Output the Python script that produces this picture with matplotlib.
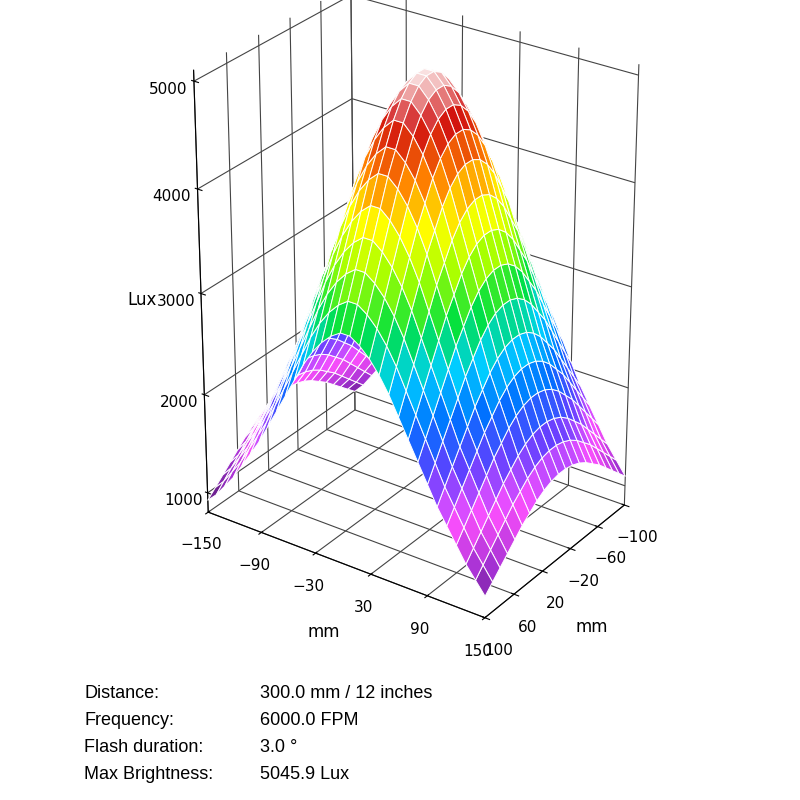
import numpy as np
import matplotlib
matplotlib.use("Agg")
import matplotlib.pyplot as plt
from matplotlib.colors import LinearSegmentedColormap

# ---- data ----
x_ticks = [-150, -90, -30, 30, 90, 150]
y_ticks = [-100, -60, -20, 20, 60, 100]
z_ticks = [1000, 2000, 3000, 4000, 5000]

# sampled profiles (relative), along x and along y through the peak
x_pos = [-150, -140, -130, -120, -110, -100, -90, -80, -70, -60, -50, -40, -30, -20, -10, 0,
         10, 20, 30, 40, 50, 60, 70, 80, 90, 100, 110, 120, 130, 140, 150]
x_rel = [0.30, 0.33, 0.37, 0.41, 0.46, 0.51, 0.56, 0.62, 0.68, 0.74, 0.80, 0.86, 0.91, 0.95, 0.98, 1.00,
         1.00, 0.98, 0.95, 0.91, 0.86, 0.80, 0.74, 0.68, 0.62, 0.56, 0.51, 0.46, 0.41, 0.37, 0.33]
y_pos = [-100, -90, -80, -70, -60, -50, -40, -30, -20, -10, 0,
         10, 20, 30, 40, 50, 60, 70, 80, 90, 100]
y_rel = [0.66, 0.71, 0.76, 0.81, 0.86, 0.90, 0.94, 0.97, 0.99, 1.00, 1.00,
         0.99, 0.97, 0.94, 0.90, 0.86, 0.81, 0.76, 0.71, 0.66, 0.61]
peak_lux = 5045.9

info_labels = ["Distance:", "Frequency:", "Flash duration:", "Max Brightness:"]
info_values = ["300.0 mm / 12 inches", "6000.0 FPM", "3.0 \u00b0", "5045.9 Lux"]

X, Y = np.meshgrid(x_pos, y_pos)
Z = peak_lux * np.outer(y_rel, x_rel)

cmap = LinearSegmentedColormap.from_list(
    "lux", ["#3a1050", "#a030d0", "#ff50ff", "#6040ff", "#0070ff", "#00d0ff",
            "#00e040", "#a0ff00", "#ffff00", "#ff8000", "#d01010", "#ffffff"])

fig = plt.figure(figsize=(8, 8), dpi=100)
ax = fig.add_axes([0.09, 0.22, 0.84, 0.80], projection="3d")
ax.plot_surface(X, Y, Z, cmap=cmap, vmin=800, vmax=5100,
                edgecolor="white", linewidth=0.7, rstride=1, cstride=1,
                antialiased=True, shade=False)
ax.view_init(elev=28, azim=-55)
ax.set_xlim(-150, 150)
ax.set_ylim(100, -100)
ax.set_zlim(800, 5100)
ax.set_xticks(x_ticks)
ax.set_yticks(y_ticks)
ax.set_zticks(z_ticks)
ax.zaxis._axinfo["juggled"] = (1, 2, 0)
ax.set_xlabel("mm", fontsize=12, labelpad=10)
ax.set_ylabel("mm", fontsize=12, labelpad=10)
ax.set_zlabel("Lux", fontsize=12, labelpad=12)
ax.tick_params(labelsize=11)
ax.tick_params(axis="z", pad=6)
for a in (ax.xaxis, ax.yaxis, ax.zaxis):
    a.set_pane_color((1, 1, 1, 0))
    a._axinfo["grid"]["color"] = "#444444"
    a._axinfo["grid"]["linewidth"] = 0.8
ax.set_box_aspect((1, 0.75, 1.45))

for i, (lab, val) in enumerate(zip(info_labels, info_values)):
    yy = 0.128 - i * 0.034
    fig.text(0.105, yy, lab, fontsize=13, family="Liberation Sans")
    fig.text(0.325, yy, val, fontsize=13, family="Liberation Sans")

fig.savefig("out.png", dpi=100)
